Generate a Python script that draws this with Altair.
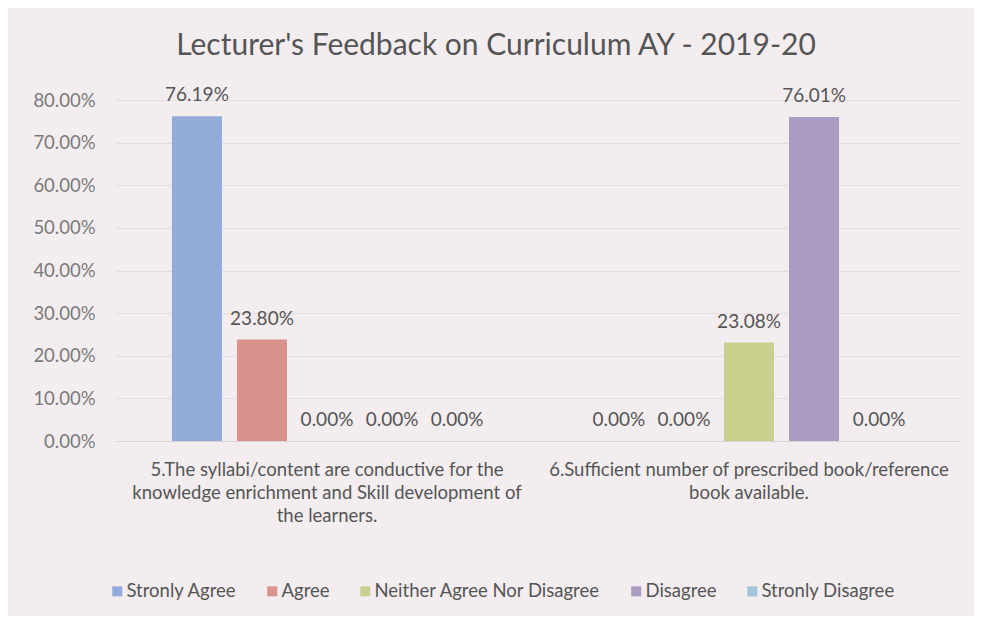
import altair as alt
import pandas as pd

questions = [
    "5.The syllabi/content are conductive for the|knowledge enrichment and Skill development of|the learners.",
    "6.Sufficient number of prescribed book/reference|book available.",
]
responses = ["Stronly Agree", "Agree", "Neither Agree Nor Disagree", "Disagree", "Stronly Disagree"]
q5_values = [0.7619, 0.2380, 0.0, 0.0, 0.0]
q6_values = [0.0, 0.0, 0.2308, 0.7601, 0.0]
colors = ["#93abd9", "#d9928c", "#c9d08e", "#a99bc1", "#a3c4da"]
y_ticks = [0.0, 0.1, 0.2, 0.3, 0.4, 0.5, 0.6, 0.7, 0.8]

rows = []
for q, vals in zip(questions, [q5_values, q6_values]):
    for r, v in zip(responses, vals):
        rows.append({"question": q, "response": r, "value": v})
df = pd.DataFrame(rows)

FONT = "Lato"
TXT = "#555555"

base = alt.Chart(df).encode(
    x=alt.X(
        "question:N",
        sort=questions,
        scale=alt.Scale(paddingInner=0, paddingOuter=0),
        axis=alt.Axis(
            title=None,
            labelExpr="split(datum.label, '|')",
            labelAngle=0,
            labelFontSize=18.5,
            labelColor=TXT,
            labelFont=FONT,
            labelLimit=600,
            labelPadding=19,
            labelLineHeight=23,
            domainColor="#d9d3d6",
            ticks=False,
        ),
    ),
    xOffset=alt.XOffset(
        "response:N",
        sort=responses,
        scale=alt.Scale(paddingInner=0.23, paddingOuter=0.86),
    ),
    y=alt.Y(
        "value:Q",
        scale=alt.Scale(domain=[0, 0.8]),
        axis=alt.Axis(
            title=None,
            values=y_ticks,
            format=".2%",
            labelFontSize=18.5,
            labelColor="#7a7a7a",
            labelFont=FONT,
            labelPadding=21,
            ticks=False,
            domain=False,
            gridColor="#e6dde1",
        ),
    ),
)

bars = base.mark_bar().encode(
    color=alt.Color(
        "response:N",
        sort=responses,
        scale=alt.Scale(domain=responses, range=colors),
        legend=alt.Legend(
            title=None,
            orient="none",
            legendX=-8,
            legendY=482,
            direction="horizontal",
            symbolType="square",
            symbolSize=100,
            symbolStrokeWidth=0,
            labelFontSize=18.5,
            labelColor=TXT,
            labelFont=FONT,
            labelOffset=0,
            labelLimit=400,
            columnPadding=26,
        ),
    )
)

labels = base.mark_text(dy=-21, fontSize=19, color=TXT, font=FONT).encode(
    text=alt.Text("value:Q", format=".2%")
)

chart = (
    alt.layer(bars, labels)
    .properties(
        width=844,
        height=341,
        background="#f3edf0",
        autosize=alt.AutoSizeParams(type="none"),
        padding={"left": 108, "top": 92, "right": 14, "bottom": 175},
        title=alt.TitleParams(
            "Lecturer's Feedback on Curriculum AY - 2019-20",
            fontSize=30,
            fontWeight="normal",
            color=TXT,
            font=FONT,
            anchor="middle",
            dx=-42,
            offset=25,
        ),
    )
    .configure_view(stroke=None)
)

chart.save("out.html", embed_options={"renderer": "svg", "actions": False})
